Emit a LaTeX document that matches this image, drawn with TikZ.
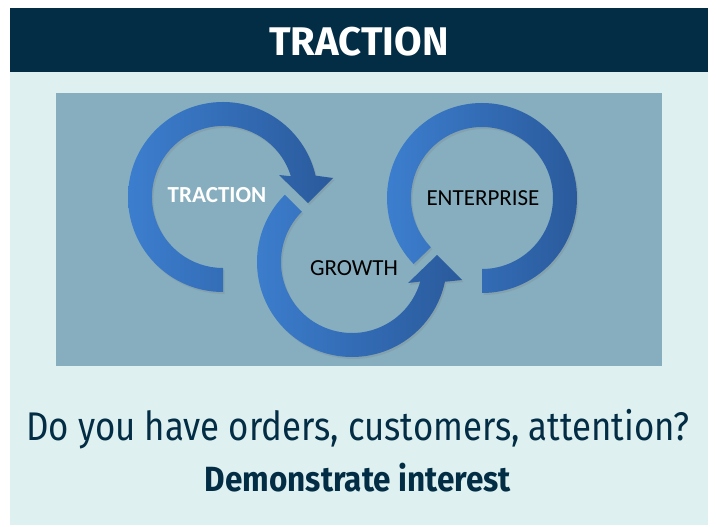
\documentclass[tikz,border=0pt]{standalone}
\usepackage{fontspec}
\setmainfont{Fira Sans}
\newfontfamily\ringfont{Carlito}
\newfontfamily\condfont[FakeStretch=0.87]{Fira Sans}
\newfontfamily\boldcondfont[FakeStretch=0.9]{Fira Sans}
\usetikzlibrary{shadows}
\definecolor{navy}{RGB}{2,45,68}
\definecolor{panel}{RGB}{222,240,240}
\definecolor{slate}{RGB}{134,174,190}
\definecolor{ringlight}{RGB}{60,126,206}
\definecolor{ringdark}{RGB}{42,90,156}

\begin{document}
\begin{tikzpicture}[
        x=1pt, y=-1pt,
        ring/.style={left color=ringlight, right color=ringdark,
          drop shadow={opacity=0.25, shadow xshift=1.5pt, shadow yshift=-2pt}},
        ringlabel/.style={font=\ringfont\fontsize{23}{27}\selectfont, inner sep=0pt, anchor=base},
        ]
        \useasboundingbox (0,0) rectangle (716,527);
        \fill[white] (0,0) rectangle (716,527);
        \fill[panel] (10,72) rectangle (708,525);
        \fill[navy]  (10,8) rectangle (708,72);
        \fill[slate] (56,93) rectangle (662,366);

        % traction loop, head pointing down
        \begin{scope}[shift={(223,197)}]
          \path[ring] (90:95) arc[start angle=90, end angle=347, radius=95]
            -- (110,-19) -- (85,6) -- (56,-22)
            -- (343:71) arc[start angle=343, end angle=90, radius=71] -- cycle;
        \end{scope}
        % growth loop, head pointing up
        \begin{scope}[shift={(352,262)}]
          \path[ring] (225:95) arc[start angle=225, end angle=12, radius=95]
            -- (110,18) -- (85,-7) -- (56,21)
            -- (16:71) arc[start angle=16, end angle=225, radius=71] -- cycle;
        \end{scope}
        % enterprise loop
        \begin{scope}[shift={(482,198)}]
          \path[ring] (90:95) arc[start angle=90, end angle=-224, radius=95]
            -- (-224:71) arc[start angle=-224, end angle=90, radius=71] -- cycle;
        \end{scope}

        \node[ringlabel, text=white, font=\ringfont\bfseries\fontsize{23}{27}\selectfont] (traction) at (217,203) {TRACTION};
        \node[ringlabel] (growth)     at (354,275) {GROWTH};
        \node[ringlabel] (enterprise) at (483,205) {ENTERPRISE};

        \node[text=white, anchor=base, inner sep=0pt, font=\bfseries\fontsize{40}{44}\selectfont] (title) at (359,56) {TRACTION};
        \node[text=navy, anchor=base, inner sep=0pt, font=\condfont\fontsize{40}{48}\selectfont] (question) at (358,440) {Do you have orders, customers, attention?};
        \node[text=navy, anchor=base, inner sep=0pt, font=\boldcondfont\bfseries\fontsize{35}{40}\selectfont] (answer) at (358,491) {Demonstrate interest};
      \end{tikzpicture}
\end{document}
